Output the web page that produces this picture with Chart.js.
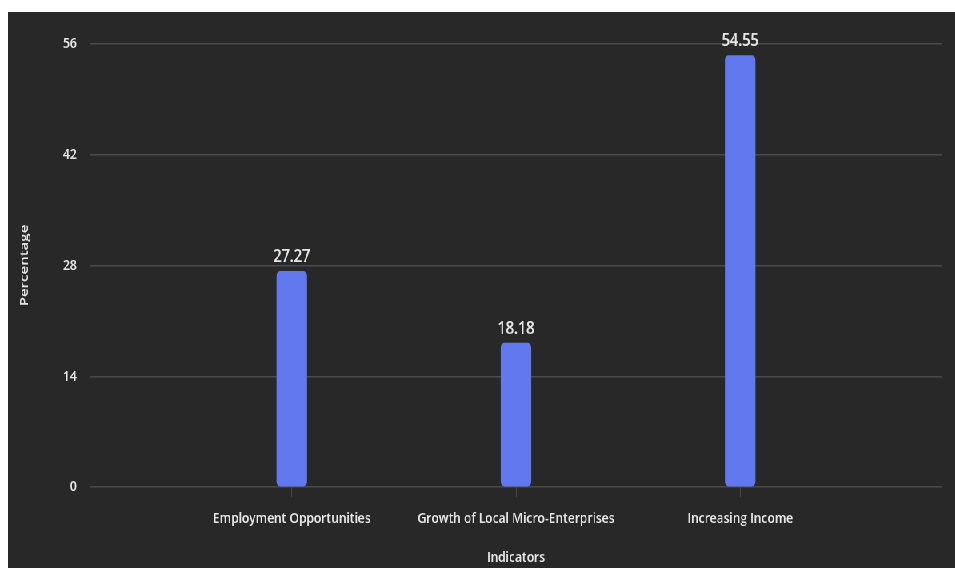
<!DOCTYPE html>
<html>
<head>
<meta charset="utf-8">
<script src="https://cdn.jsdelivr.net/npm/chart.js@4"></script>
<style>
  html, body { margin: 0; padding: 0; background: #ffffff; overflow: hidden; }
  /* the chart is laid out wide, then squeezed horizontally into its 947px slot */
  #wrap {
    position: absolute; left: 8px; top: 12px;
    width: 1184px; height: 556px; background: #282828;
    transform: scaleX(0.8); transform-origin: 0 0;
  }
</style>
</head>
<body>
<div id="wrap"><canvas id="chart"></canvas></div>
<script>
// Survey results by indicator (percent of respondents)
const categories = ['Employment Opportunities', 'Growth of Local Micro-Enterprises', 'Increasing Income'];
const values = [27.27, 18.18, 54.55];
const yTicks = [0, 14, 28, 42, 56];

const FONT = "'Open Sans', 'Noto Sans', sans-serif";
const TEXT = '#e6e6e6';
const GRID = '#4a4a4a';

// Writes each bar's value just above it
const valueLabels = {
  id: 'valueLabels',
  afterDatasetsDraw(chart) {
    const ctx = chart.ctx;
    const meta = chart.getDatasetMeta(0);
    ctx.save();
    ctx.fillStyle = TEXT;
    ctx.font = '600 18px ' + FONT;
    ctx.textAlign = 'center';
    ctx.textBaseline = 'alphabetic';
    meta.data.forEach((bar, i) => {
      ctx.fillText(values[i].toFixed(2), bar.x, bar.y - 9);
    });
    ctx.restore();
  }
};

new Chart(document.getElementById('chart'), {
  type: 'bar',
  data: {
    datasets: [{
      data: values.map((v, i) => ({ x: i, y: v })),
      backgroundColor: '#6278ee',
      borderWidth: 0,
      borderRadius: 5,
      borderSkipped: false,
      barThickness: 37.5
    }]
  },
  options: {
    responsive: true,
    maintainAspectRatio: false,
    animation: false,
    devicePixelRatio: 1,
    layout: { padding: { top: 32, right: 16.5, left: 0, bottom: 0 } },
    plugins: { legend: { display: false }, tooltip: { enabled: false } },
    scales: {
      x: {
        type: 'linear',
        offset: false,
        min: -0.9,
        max: categories.length - 0.1,
        afterBuildTicks(scale) { scale.ticks = categories.map((_, i) => ({ value: i })); },
        afterFit(scale) { scale.height = 81; },
        grid: { offset: false, drawOnChartArea: false, drawTicks: true, tickLength: 10, color: GRID },
        border: { display: false },
        ticks: {
          autoSkip: false, maxRotation: 0, minRotation: 0, padding: 13,
          color: TEXT, font: { family: FONT, size: 15, weight: '600' },
          callback: (v) => categories[v]
        },
        title: {
          display: true, text: 'Indicators', color: TEXT,
          font: { family: FONT, size: 15, weight: '600' },
          padding: { top: 0, bottom: 1 }
        }
      },
      y: {
        min: 0,
        max: 56,
        afterBuildTicks(scale) { scale.ticks = yTicks.map(v => ({ value: v })); },
        afterFit(scale) { scale.width = 102.5; },
        grid: { color: GRID, lineWidth: 1.5, drawTicks: false },
        border: { display: false },
        ticks: { padding: 16.5, color: TEXT, font: { family: FONT, size: 15, weight: '600' } },
        title: {
          display: true, text: 'Percentage', color: TEXT,
          font: { family: FONT, size: 15, weight: '600' },
          padding: { top: 12, bottom: 0 }
        }
      }
    }
  },
  plugins: [valueLabels]
});
</script>
</body>
</html>
